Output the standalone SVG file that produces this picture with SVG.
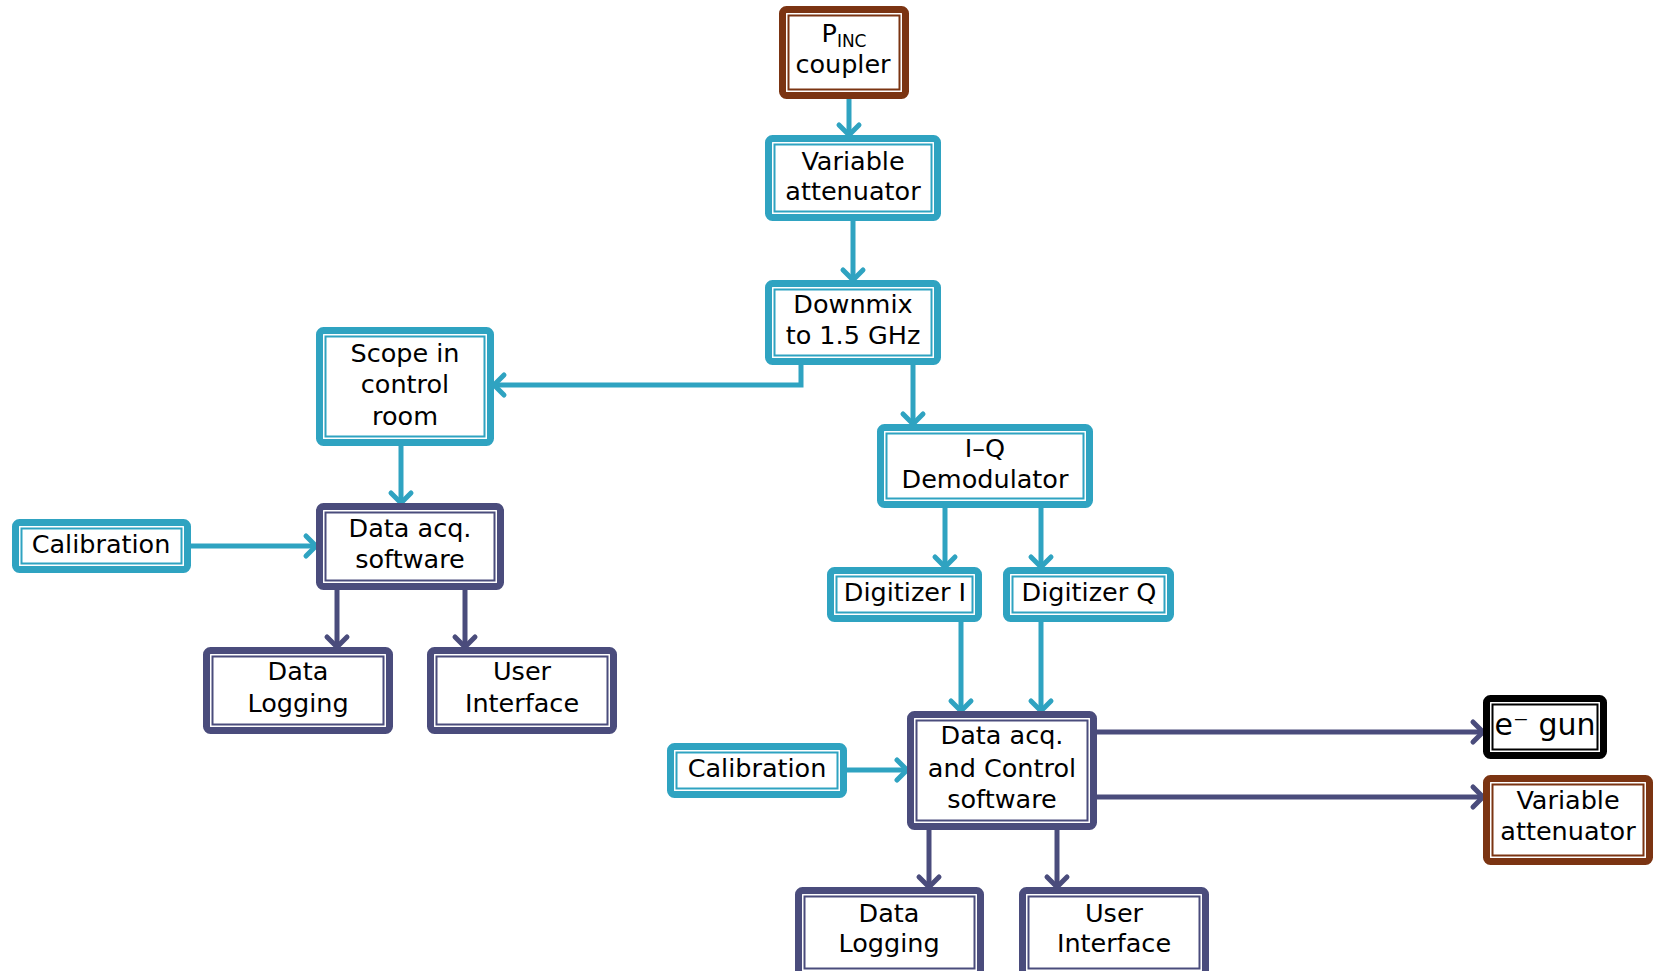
<svg xmlns="http://www.w3.org/2000/svg" width="1656" height="971" viewBox="0 0 1656 971">
<style>
.o{fill:#fff;stroke-width:7}
.i{fill:none;stroke-width:2}
.teal .o,.teal .i{stroke:#2fa3c1}
.navy .o,.navy .i{stroke:#4a4c7c}
.brown .o,.brown .i{stroke:#7b3412}
.black .o,.black .i{stroke:#000}
text{font-family:"DejaVu Sans","Liberation Sans",sans-serif;font-size:25.5px;fill:#000;text-anchor:middle}
text.big{font-size:30px}
.ct{fill:none;stroke-width:5}
.ct.t{stroke:#2fa3c1}
.ct.n{stroke:#4a4c7c}
</style>
<defs>
<marker id="at" markerUnits="userSpaceOnUse" viewBox="-14 -14 16 28" refX="0" refY="0" markerWidth="16" markerHeight="28" orient="auto" overflow="visible">
<path d="M-10,-10 L0,0 L-10,10" fill="none" stroke="#2fa3c1" stroke-width="5" stroke-linecap="round" stroke-linejoin="round"/>
</marker>
<marker id="an" markerUnits="userSpaceOnUse" viewBox="-14 -14 16 28" refX="0" refY="0" markerWidth="16" markerHeight="28" orient="auto" overflow="visible">
<path d="M-10,-10 L0,0 L-10,10" fill="none" stroke="#4a4c7c" stroke-width="5" stroke-linecap="round" stroke-linejoin="round"/>
</marker>
</defs>
<rect width="1656" height="971" fill="#fff"/>
<g id="connectors">
<path class="ct t" marker-end="url(#at)" d="M849,99 V135"/>
<path class="ct t" marker-end="url(#at)" d="M853,221 V280"/>
<path class="ct t" marker-end="url(#at)" d="M801,365 V385 H494"/>
<path class="ct t" marker-end="url(#at)" d="M913,365 V424"/>
<path class="ct t" marker-end="url(#at)" d="M401,446 V503"/>
<path class="ct t" marker-end="url(#at)" d="M191,546 H316"/>
<path class="ct t" marker-end="url(#at)" d="M945,508 V567"/>
<path class="ct t" marker-end="url(#at)" d="M1041,508 V567"/>
<path class="ct t" marker-end="url(#at)" d="M961,622 V711"/>
<path class="ct t" marker-end="url(#at)" d="M1041,622 V711"/>
<path class="ct t" marker-end="url(#at)" d="M847,770 H907"/>
<path class="ct n" marker-end="url(#an)" d="M337,590 V647"/>
<path class="ct n" marker-end="url(#an)" d="M465,590 V647"/>
<path class="ct n" marker-end="url(#an)" d="M1090,732 H1483"/>
<path class="ct n" marker-end="url(#an)" d="M1090,797 H1483"/>
<path class="ct n" marker-end="url(#an)" d="M929,830 V887"/>
<path class="ct n" marker-end="url(#an)" d="M1057,830 V887"/>
</g>
<g id="pinc" class="brown">
<rect class="o" x="782.5" y="9.5" width="123" height="86" rx="4"/>
<rect class="i" x="788.5" y="15.5" width="111" height="74"/>
<text x="844" y="42">P<tspan font-size="17" dy="5">INC</tspan></text>
<text x="843" y="73">coupler</text>
</g>
<g id="varatt1" class="teal">
<rect class="o" x="768.5" y="138.5" width="169" height="79" rx="4"/>
<rect class="i" x="774.5" y="144.5" width="157" height="67"/>
<text x="853" y="170">Variable</text>
<text x="853" y="200">attenuator</text>
</g>
<g id="downmix" class="teal">
<rect class="o" x="768.5" y="283.5" width="169" height="78" rx="4"/>
<rect class="i" x="774.5" y="289.5" width="157" height="66"/>
<text x="853" y="313">Downmix</text>
<text x="853" y="344">to 1.5 GHz</text>
</g>
<g id="iq" class="teal">
<rect class="o" x="880.5" y="427.5" width="209" height="77" rx="4"/>
<rect class="i" x="886.5" y="433.5" width="197" height="65"/>
<text x="985" y="457">I–Q</text>
<text x="985" y="488">Demodulator</text>
</g>
<g id="scope" class="teal">
<rect class="o" x="319.5" y="330.5" width="171" height="112" rx="4"/>
<rect class="i" x="325.5" y="336.5" width="159" height="100"/>
<text x="405" y="362">Scope in</text>
<text x="405" y="393">control</text>
<text x="405" y="425">room</text>
</g>
<g id="cal1" class="teal">
<rect class="o" x="15.5" y="522.5" width="172" height="47" rx="4"/>
<rect class="i" x="21.5" y="528.5" width="160" height="35"/>
<text x="101" y="553">Calibration</text>
</g>
<g id="das1" class="navy">
<rect class="o" x="319.5" y="506.5" width="181" height="80" rx="4"/>
<rect class="i" x="325.5" y="512.5" width="169" height="68"/>
<text x="410" y="537">Data acq.</text>
<text x="410" y="568">software</text>
</g>
<g id="dl1" class="navy">
<rect class="o" x="206.5" y="650.5" width="183" height="80" rx="4"/>
<rect class="i" x="212.5" y="656.5" width="171" height="68"/>
<text x="298" y="680">Data</text>
<text x="298" y="712">Logging</text>
</g>
<g id="ui1" class="navy">
<rect class="o" x="430.5" y="650.5" width="183" height="80" rx="4"/>
<rect class="i" x="436.5" y="656.5" width="171" height="68"/>
<text x="522" y="680">User</text>
<text x="522" y="712">Interface</text>
</g>
<g id="digI" class="teal">
<rect class="o" x="830.5" y="570.5" width="148" height="48" rx="4"/>
<rect class="i" x="836.5" y="576.5" width="136" height="36"/>
<text x="905" y="601">Digitizer I</text>
</g>
<g id="digQ" class="teal">
<rect class="o" x="1006.5" y="570.5" width="164" height="48" rx="4"/>
<rect class="i" x="1012.5" y="576.5" width="152" height="36"/>
<text x="1089" y="601">Digitizer Q</text>
</g>
<g id="dacs" class="navy">
<rect class="o" x="910.5" y="714.5" width="183" height="112" rx="4"/>
<rect class="i" x="916.5" y="720.5" width="171" height="100"/>
<text x="1002" y="744">Data acq.</text>
<text x="1002" y="777">and Control</text>
<text x="1002" y="808">software</text>
</g>
<g id="cal2" class="teal">
<rect class="o" x="670.5" y="746.5" width="173" height="48" rx="4"/>
<rect class="i" x="676.5" y="752.5" width="161" height="36"/>
<text x="757" y="777">Calibration</text>
</g>
<g id="egun" class="black">
<rect class="o" x="1486.5" y="698.5" width="117" height="57" rx="4"/>
<rect class="i" x="1492.5" y="704.5" width="105" height="45"/>
<text class="big" x="1545" y="735">e⁻ gun</text>
</g>
<g id="varatt2" class="brown">
<rect class="o" x="1486.5" y="778.5" width="163" height="83" rx="4"/>
<rect class="i" x="1492.5" y="784.5" width="151" height="71"/>
<text x="1568" y="809">Variable</text>
<text x="1568" y="840">attenuator</text>
</g>
<g id="dl2" class="navy">
<rect class="o" x="798.5" y="890.5" width="182" height="84" rx="4"/>
<rect class="i" x="804.5" y="896.5" width="170" height="72"/>
<text x="889" y="922">Data</text>
<text x="889" y="952">Logging</text>
</g>
<g id="ui2" class="navy">
<rect class="o" x="1022.5" y="890.5" width="183" height="84" rx="4"/>
<rect class="i" x="1028.5" y="896.5" width="171" height="72"/>
<text x="1114" y="922">User</text>
<text x="1114" y="952">Interface</text>
</g>
</svg>
